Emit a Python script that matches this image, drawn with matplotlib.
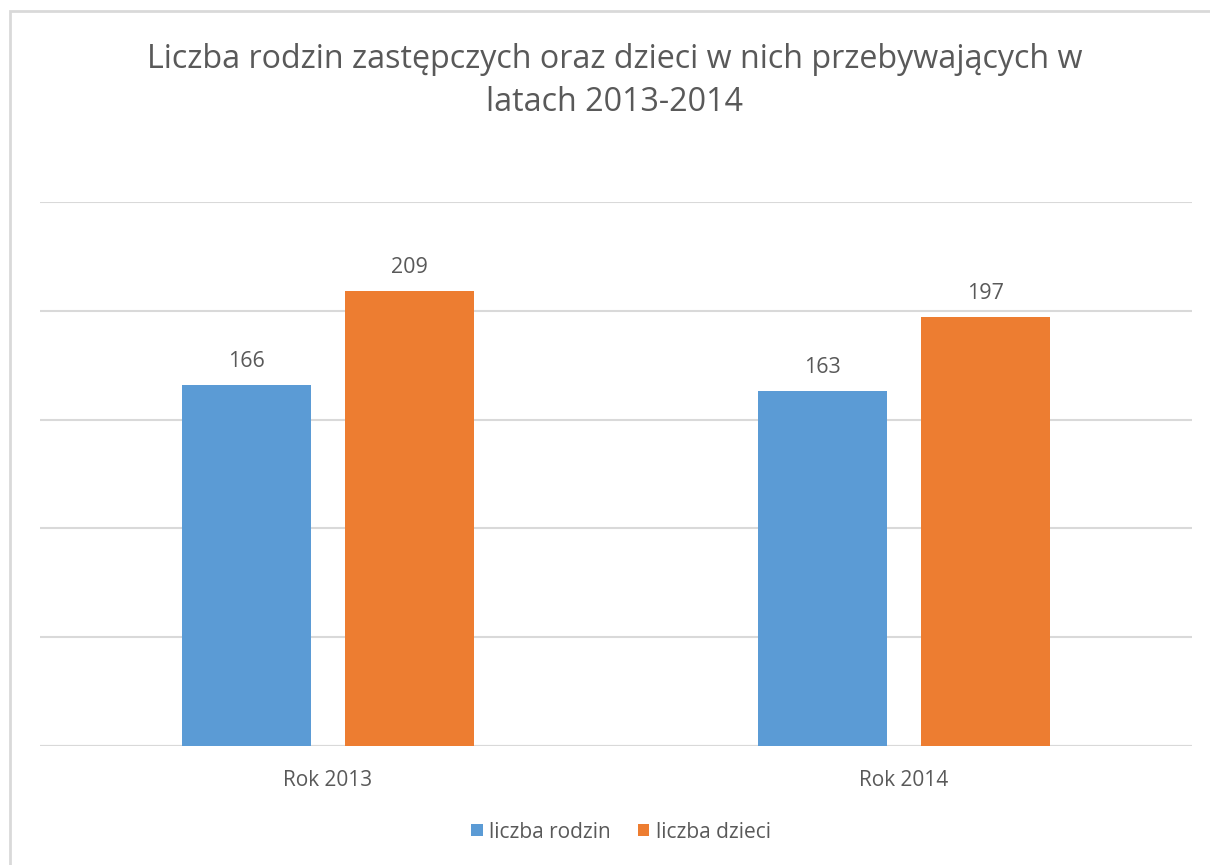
import matplotlib
matplotlib.use("Agg")
import matplotlib.pyplot as plt
from matplotlib.patches import Rectangle
import numpy as np

plt.rcParams['font.family'] = ['Open Sans', 'DejaVu Sans']

categories = ["Rok 2013", "Rok 2014"]
series_names = ["liczba rodzin", "liczba dzieci"]
rodzin = [166, 163]
dzieci = [209, 197]
title = "Liczba rodzin zastępczych oraz dzieci w nich przebywających w\nlatach 2013-2014"

W, H = 1210, 865
fig = plt.figure(figsize=(W/100, H/100), dpi=100)
fig.patch.set_facecolor("white")

# outer border
fig.patches.append(Rectangle((10/W, -0.1), 1.2, (H-11)/H + 0.1, transform=fig.transFigure,
                             fill=False, edgecolor="#D9D9D9", linewidth=2))

ax = fig.add_axes([40/W, (H-746)/H, (1192-40)/W, (746-202)/H])
x = np.arange(len(categories))
width = 0.224
off = 0.142
text_c = "#595959"
b1 = ax.bar(x - off, rodzin, width, color="#5B9BD5", label=series_names[0], zorder=3)
b2 = ax.bar(x + off, dzieci, width, color="#ED7D31", label=series_names[1], zorder=3)

for bars, vals in ((b1, rodzin), (b2, dzieci)):
    for r, v in zip(bars, vals):
        ax.annotate(f"{v}", (r.get_x() + r.get_width()/2, v), xytext=(0, 9.5),
                    textcoords="offset points", ha="center", va="bottom",
                    fontsize=15.5, color=text_c)

ax.set_xlim(-0.5, len(categories) - 0.5)
ax.set_ylim(0, 250)
ax.set_yticks(np.arange(0, 251, 50))
ax.yaxis.grid(True, color="#D9D9D9", linewidth=1.5, zorder=0)
ax.tick_params(axis="y", left=False, labelleft=False)
ax.tick_params(axis="x", bottom=False, labelsize=15, labelcolor=text_c, pad=13.5)
ax.set_xticks(x)
ax.set_xticklabels(categories)
for s in ax.spines.values():
    s.set_visible(False)
ax.axhline(0, color="#D9D9D9", linewidth=1.5, zorder=2)

fig.text(615/W, 1 - 81/H, title, ha="center", va="center", fontsize=23.2,
         color=text_c, linespacing=1.4)

leg = fig.legend(handles=[b1, b2], labels=series_names, loc="center",
                 bbox_to_anchor=(621/W, 1 - 832/H), ncol=2, frameon=False,
                 fontsize=15, labelcolor=text_c, handlelength=0.55, handleheight=0.55,
                 handletextpad=0.3, columnspacing=1.3)

fig.savefig("out.png", dpi=100, facecolor="white")
